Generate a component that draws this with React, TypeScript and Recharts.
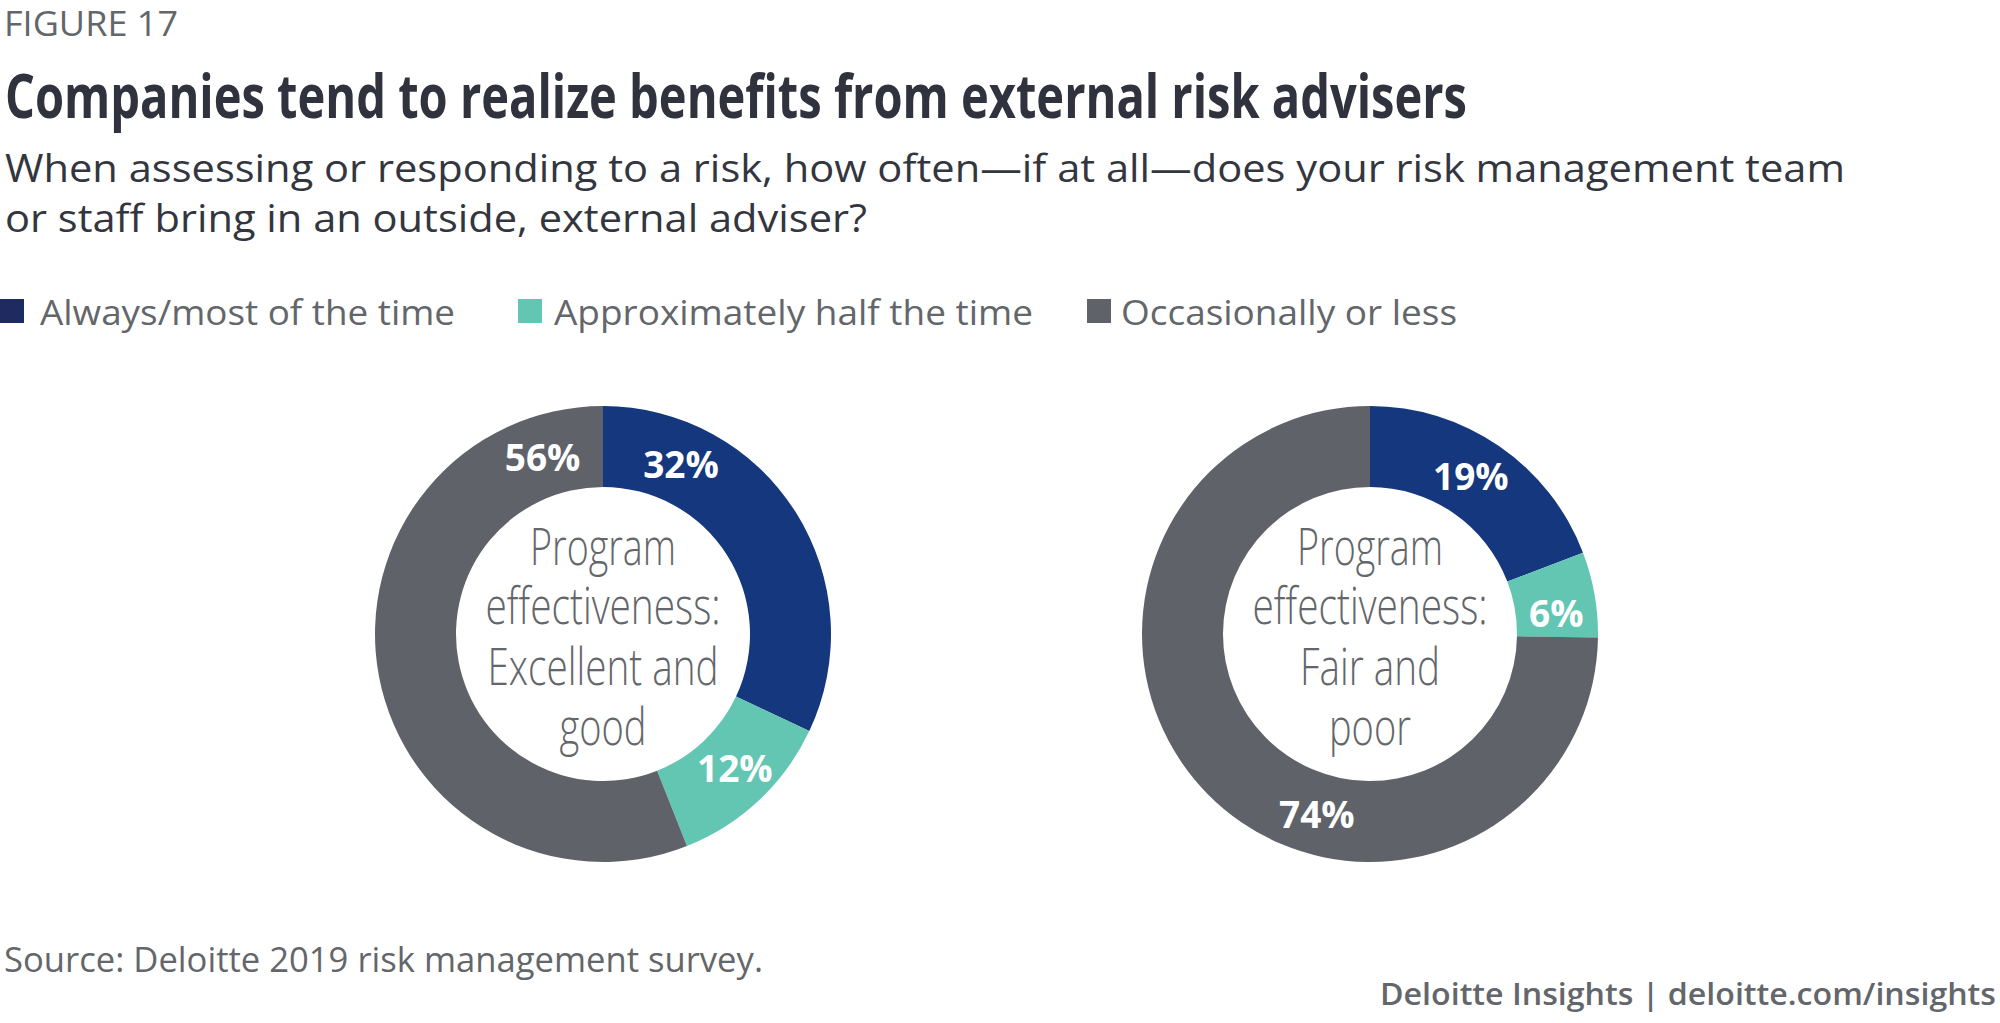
import React from 'react';
import { Cell, Pie, PieChart } from 'recharts';

// Survey answer categories, shared by both donuts.
const SERIES = ['Always/most of the time', 'Approximately half the time', 'Occasionally or less'];
const COLORS = ['#15377d', '#63c6b3', '#5f6369'];
const LEGEND_COLORS = ['#1f2b60', '#63c6b3', '#5f6369'];

// Share of respondents (%) for each program-effectiveness group.
const EXCELLENT_GOOD = [32, 12, 56];
const FAIR_POOR = [19, 6, 74];

const CENTER_EXCELLENT = ['Program', 'effectiveness:', 'Excellent and', 'good'];
const CENTER_FAIR = ['Program', 'effectiveness:', 'Fair and', 'poor'];

// Layout only: nudges (degrees) of each value label off the slice middle.
const LEFT_LABEL_SHIFT = [33, 1.5, -82];
const RIGHT_LABEL_SHIFT = [2, -3.4, 29];

const W = 2000;
const H = 1023;
const FONT = '"Open Sans", sans-serif';
const GREY_TEXT = '#63666a';
const RADIAN = Math.PI / 180;

const INNER_R = 147;
const OUTER_R = 228;
const CY = 634;
const LEFT_CX = 603;
const RIGHT_CX = 1370;

const toRows = (values: number[]) => SERIES.map((name, i) => ({ name, value: values[i] }));

function makeLabel(shift: number[]) {
  return (props: any) => {
    const { cx, cy, midAngle, innerRadius, outerRadius, index, value } = props;
    const r = (innerRadius + outerRadius) / 2;
    const a = (midAngle + shift[index]) * RADIAN;
    const x = cx + r * Math.cos(-a);
    const y = cy + r * Math.sin(-a);
    return (
      <text
        x={x}
        y={y}
        fill="#fff"
        textAnchor="middle"
        dominantBaseline="central"
        fontFamily={FONT}
        fontWeight={700}
        fontSize={37}
      >
        {`${value}%`}
      </text>
    );
  };
}

const CENTER_WIDTHS: Record<string, number> = {
  Program: 146,
  'effectiveness:': 235,
  'Excellent and': 231,
  good: 87,
  'Fair and': 140,
  poor: 82,
};
const CENTER_BASELINES = [565, 624, 685, 745];

function CenterText({ cx, lines }: { cx: number; lines: string[] }) {
  return (
    <>
      {lines.map((t, i) => (
        <text
          key={i}
          x={cx}
          y={CENTER_BASELINES[i]}
          textAnchor="middle"
          fontFamily={FONT}
          fontWeight={300}
          fontSize={52}
          fill={GREY_TEXT}
          textLength={CENTER_WIDTHS[t]}
          lengthAdjust="spacingAndGlyphs"
        >
          {t}
        </text>
      ))}
    </>
  );
}

const LEGEND_BOX_X = [0, 518, 1087];
const LEGEND_TEXT_X = [40, 554, 1121];
const LEGEND_TEXT_W = [415, 479, 336];

export default function App() {
  const left = toRows(EXCELLENT_GOOD);
  const right = toRows(FAIR_POOR);

  return (
    <div style={{ position: 'absolute', left: 0, top: 0, width: W, height: H, background: '#fff' }}>
      <div style={{ position: 'absolute', left: 0, top: 0 }}>
        <PieChart width={W} height={H} margin={{ top: 0, right: 0, bottom: 0, left: 0 }}>
          <Pie
            data={left}
            dataKey="value"
            nameKey="name"
            cx={LEFT_CX}
            cy={CY}
            innerRadius={INNER_R}
            outerRadius={OUTER_R}
            startAngle={90}
            endAngle={-270}
            stroke="none"
            labelLine={false}
            label={makeLabel(LEFT_LABEL_SHIFT)}
            isAnimationActive={false}
          >
            {left.map((_, i) => (
              <Cell key={i} fill={COLORS[i]} stroke="none" />
            ))}
          </Pie>
          <Pie
            data={right}
            dataKey="value"
            nameKey="name"
            cx={RIGHT_CX}
            cy={CY}
            innerRadius={INNER_R}
            outerRadius={OUTER_R}
            startAngle={90}
            endAngle={-270}
            stroke="none"
            labelLine={false}
            label={makeLabel(RIGHT_LABEL_SHIFT)}
            isAnimationActive={false}
          >
            {right.map((_, i) => (
              <Cell key={i} fill={COLORS[i]} stroke="none" />
            ))}
          </Pie>
        </PieChart>
      </div>

      <svg
        width={W}
        height={H}
        style={{ position: 'absolute', left: 0, top: 0, pointerEvents: 'none' }}
      >
        <text x={4} y={36} fontFamily={FONT} fontSize={35} fill={GREY_TEXT} textLength={174} lengthAdjust="spacingAndGlyphs">
          FIGURE 17
        </text>
        <text
          x={5}
          y={118}
          fontFamily={FONT}
          fontWeight={700}
          fontSize={60}
          fill="#30323d"
          textLength={1462}
          lengthAdjust="spacingAndGlyphs"
        >
          Companies tend to realize benefits from external risk advisers
        </text>
        <text x={5} y={182} fontFamily={FONT} fontSize={38} fill="#34363f" textLength={1840} lengthAdjust="spacingAndGlyphs">
          When assessing or responding to a risk, how often—if at all—does your risk management team
        </text>
        <text x={5} y={232} fontFamily={FONT} fontSize={38} fill="#34363f" textLength={862} lengthAdjust="spacingAndGlyphs">
          or staff bring in an outside, external adviser?
        </text>

        {SERIES.map((s, i) => (
          <g key={s}>
            <rect x={LEGEND_BOX_X[i]} y={299} width={24} height={24} fill={LEGEND_COLORS[i]} />
            <text
              x={LEGEND_TEXT_X[i]}
              y={325}
              fontFamily={FONT}
              fontSize={35}
              fill={GREY_TEXT}
              textLength={LEGEND_TEXT_W[i]}
              lengthAdjust="spacingAndGlyphs"
            >
              {s}
            </text>
          </g>
        ))}

        <CenterText cx={LEFT_CX} lines={CENTER_EXCELLENT} />
        <CenterText cx={RIGHT_CX} lines={CENTER_FAIR} />

        <text x={4} y={972} fontFamily={FONT} fontSize={34} fill={GREY_TEXT} textLength={759} lengthAdjust="spacingAndGlyphs">
          Source: Deloitte 2019 risk management survey.
        </text>
        <text
          x={1996}
          y={1005}
          textAnchor="end"
          fontFamily={FONT}
          fontWeight={600}
          fontSize={30}
          fill={GREY_TEXT}
          textLength={616}
          lengthAdjust="spacingAndGlyphs"
        >
          Deloitte Insights | deloitte.com/insights
        </text>
      </svg>
    </div>
  );
}
